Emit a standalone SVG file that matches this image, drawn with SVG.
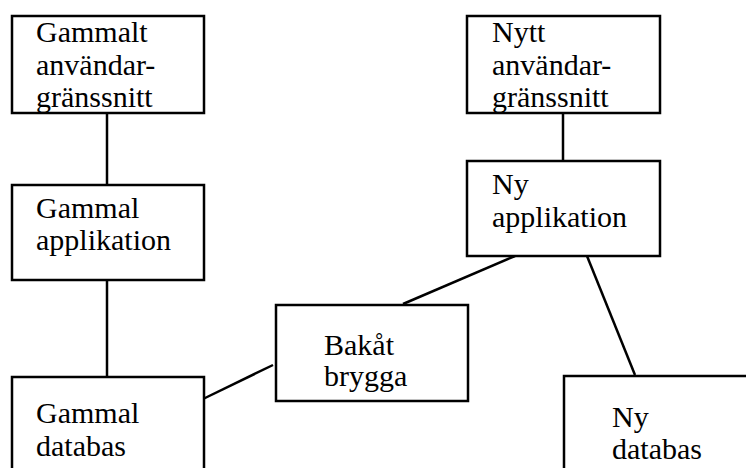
<svg xmlns="http://www.w3.org/2000/svg" width="746" height="468" viewBox="0 0 746 468">
<rect width="746" height="468" fill="#fff"/>
<g id="connectors" stroke="#000" stroke-width="2.5" fill="none">
<line x1="107" y1="113" x2="107" y2="185"/>
<line x1="107" y1="280" x2="107" y2="377"/>
<line x1="563" y1="113" x2="563" y2="161"/>
<line x1="203" y1="399" x2="273" y2="365"/>
<line x1="403" y1="304" x2="515" y2="256"/>
<line x1="587" y1="256" x2="635" y2="375"/>
</g>
<g id="gammalt-ui">
<rect x="12" y="16" width="192" height="97" fill="#fff" stroke="#000" stroke-width="2.5"/>
<text x="36" y="42" style="font-family:Tinos,'Liberation Serif','Times New Roman',serif;font-size:30px">Gammalt</text>
<text x="36" y="75" style="font-family:Tinos,'Liberation Serif','Times New Roman',serif;font-size:30px">användar-</text>
<text x="36" y="107" style="font-family:Tinos,'Liberation Serif','Times New Roman',serif;font-size:30px">gränssnitt</text>
</g>
<g id="gammal-app">
<rect x="12" y="185" width="192" height="95" fill="#fff" stroke="#000" stroke-width="2.5"/>
<text x="36" y="218" style="font-family:Tinos,'Liberation Serif','Times New Roman',serif;font-size:30px">Gammal</text>
<text x="36" y="250" style="font-family:Tinos,'Liberation Serif','Times New Roman',serif;font-size:30px">applikation</text>
</g>
<g id="gammal-db">
<rect x="12" y="377" width="192" height="110" fill="#fff" stroke="#000" stroke-width="2.5"/>
<text x="36" y="423" style="font-family:Tinos,'Liberation Serif','Times New Roman',serif;font-size:30px">Gammal</text>
<text x="36" y="456" style="font-family:Tinos,'Liberation Serif','Times New Roman',serif;font-size:30px">databas</text>
</g>
<g id="bakat-brygga">
<rect x="276" y="305" width="192" height="96" fill="#fff" stroke="#000" stroke-width="2.5"/>
<text x="324" y="355" style="font-family:Tinos,'Liberation Serif','Times New Roman',serif;font-size:30px">Bakåt</text>
<text x="324" y="386" style="font-family:Tinos,'Liberation Serif','Times New Roman',serif;font-size:30px">brygga</text>
</g>
<g id="nytt-ui">
<rect x="467" y="16" width="193" height="97" fill="#fff" stroke="#000" stroke-width="2.5"/>
<text x="492" y="42" style="font-family:Tinos,'Liberation Serif','Times New Roman',serif;font-size:30px">Nytt</text>
<text x="492" y="75" style="font-family:Tinos,'Liberation Serif','Times New Roman',serif;font-size:30px">användar-</text>
<text x="492" y="107" style="font-family:Tinos,'Liberation Serif','Times New Roman',serif;font-size:30px">gränssnitt</text>
</g>
<g id="ny-app">
<rect x="467" y="161" width="193" height="95" fill="#fff" stroke="#000" stroke-width="2.5"/>
<text x="492" y="194" style="font-family:Tinos,'Liberation Serif','Times New Roman',serif;font-size:30px">Ny</text>
<text x="492" y="227" style="font-family:Tinos,'Liberation Serif','Times New Roman',serif;font-size:30px">applikation</text>
</g>
<g id="ny-db">
<rect x="564" y="376" width="200" height="110" fill="#fff" stroke="#000" stroke-width="2.5"/>
<text x="612" y="427" style="font-family:Tinos,'Liberation Serif','Times New Roman',serif;font-size:30px">Ny</text>
<text x="612" y="459" style="font-family:Tinos,'Liberation Serif','Times New Roman',serif;font-size:30px">databas</text>
</g>
</svg>
